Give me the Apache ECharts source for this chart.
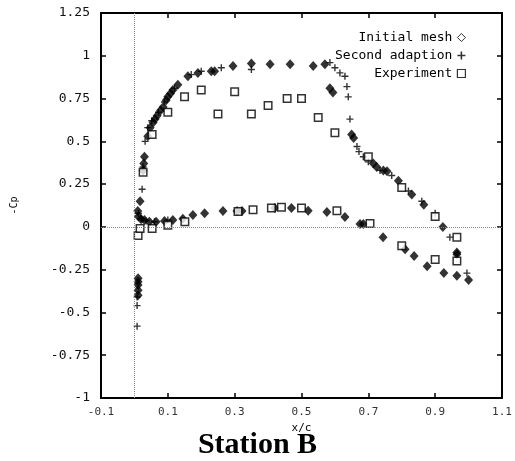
<!DOCTYPE html>
<html>
<head>
<meta charset="utf-8">
<script src="https://cdn.jsdelivr.net/npm/echarts@6/dist/echarts.min.js"></script>
<style>
html,body{margin:0;padding:0;background:#fff;}
#chart{width:515px;height:461px;}
</style>
</head>
<body>
<div id="chart"></div>
<script>
// ---- data ----
const xTicks = [-0.1, 0.1, 0.3, 0.5, 0.7, 0.9, 1.1];
const yTicks = [-1, -0.75, -0.5, -0.25, 0, 0.25, 0.5, 0.75, 1, 1.25];
const seriesNames = ['Initial mesh', 'Second adaption', 'Experiment'];

const initialMesh = [
  [0.017,0.15],[0.026,0.33],[0.028,0.37],[0.030,0.41],[0.040,0.53],[0.047,0.58],[0.056,0.61],[0.062,0.63],
  [0.068,0.65],[0.078,0.68],[0.086,0.70],[0.095,0.74],[0.100,0.76],[0.108,0.78],[0.115,0.80],[0.130,0.83],
  [0.160,0.88],[0.190,0.90],[0.230,0.91],[0.240,0.91],[0.295,0.94],[0.350,0.955],[0.406,0.95],[0.466,0.95],
  [0.535,0.94],[0.570,0.95],[0.585,0.81],[0.594,0.785],[0.650,0.54],[0.656,0.52],[0.715,0.37],[0.725,0.35],
  [0.745,0.33],[0.756,0.325],[0.790,0.27],[0.830,0.19],[0.866,0.13],[0.923,0.0],[0.965,-0.15],[0.965,-0.16],
  [1.0,-0.31],
  [0.010,0.093],[0.012,0.06],[0.020,0.045],[0.030,0.04],[0.045,0.03],[0.065,0.03],[0.090,0.035],[0.115,0.04],
  [0.145,0.047],[0.175,0.07],[0.210,0.08],[0.265,0.093],[0.307,0.093],[0.322,0.093],[0.420,0.11],[0.470,0.11],
  [0.520,0.095],[0.576,0.087],[0.630,0.058],[0.675,0.017],[0.685,0.017],[0.744,-0.06],[0.810,-0.13],[0.837,-0.17],
  [0.876,-0.23],[0.926,-0.27],[0.965,-0.285],
  [0.011,-0.30],[0.011,-0.32],[0.011,-0.34],[0.011,-0.37],[0.011,-0.40]
];

const secondAdaption = [
  [0.023,0.22],[0.026,0.35],[0.032,0.50],[0.040,0.58],[0.052,0.62],[0.072,0.67],[0.090,0.73],[0.120,0.81],
  [0.170,0.89],[0.200,0.91],[0.260,0.93],[0.350,0.92],[0.585,0.96],[0.600,0.93],[0.615,0.90],[0.630,0.88],
  [0.636,0.82],[0.640,0.76],[0.645,0.63],[0.666,0.47],[0.672,0.44],[0.685,0.41],[0.700,0.38],[0.735,0.33],
  [0.770,0.30],[0.820,0.21],[0.860,0.15],[0.900,0.08],[0.944,-0.06],[0.995,-0.27],
  [0.012,0.08],[0.020,0.05],[0.035,0.035],[0.060,0.03],[0.100,0.04],
  [0.008,-0.41],[0.008,-0.46],[0.008,-0.58]
];

const experiment = [
  [0.026,0.32],[0.053,0.54],[0.100,0.67],[0.150,0.76],[0.200,0.80],[0.250,0.66],[0.300,0.79],[0.350,0.66],
  [0.400,0.71],[0.457,0.75],[0.500,0.75],[0.550,0.64],[0.600,0.55],[0.700,0.41],[0.800,0.23],[0.900,0.06],
  [0.965,-0.06],
  [0.011,-0.05],[0.017,-0.01],[0.053,-0.01],[0.100,0.01],[0.151,0.03],[0.310,0.09],[0.355,0.10],[0.410,0.11],
  [0.440,0.115],[0.500,0.11],[0.606,0.095],[0.705,0.02],[0.800,-0.11],[0.900,-0.19],[0.965,-0.20]
];

// ---- chart ----
const MONO = '"DejaVu Sans Mono", "Liberation Mono", monospace';
const PLUS = 'path://M4,0 L6,0 L6,4 L10,4 L10,6 L6,6 L6,10 L4,10 L4,6 L0,6 L0,4 L4,4 Z';

function fmt(v){ return String(Math.round(v*100)/100); }

const chart = echarts.init(document.getElementById('chart'), null, {renderer:'canvas'});

const axisLineStyle = {color:'#000', width:2};
const tickStyle = {show:true, inside:true, length:5, lineStyle:{color:'#000', width:1.5}};

chart.setOption({
  animation:false,
  backgroundColor:'#fff',
  title:{
    text:'Station B', left:'center', top:425,
    textStyle:{fontFamily:'"Liberation Serif", "Times New Roman", serif', fontWeight:'bold', fontSize:30, color:'#000'}
  },
  legend:{
    orient:'vertical', right:44, top:26, align:'right', itemGap:5,
    itemWidth:8, itemHeight:8,
    textStyle:{fontFamily:MONO, fontSize:13, color:'#000'},
    selectedMode:false,
    data:[
      {name:seriesNames[0], icon:'diamond', itemStyle:{color:'#fff', borderColor:'#000', borderWidth:1}},
      {name:seriesNames[1], icon:PLUS},
      {name:seriesNames[2], icon:'rect', itemStyle:{color:'#fff', borderColor:'#000', borderWidth:1.2}}
    ]
  },
  grid:{left:101, right:13, top:13, bottom:63, containLabel:false},
  xAxis:[{
    type:'value', min:-0.1, max:1.1, position:'bottom',
    name:'x/c', nameLocation:'middle', nameGap:21,
    nameTextStyle:{fontFamily:MONO, fontSize:11, color:'#000'},
    axisLine:{show:true, onZero:false, lineStyle:axisLineStyle},
    axisTick:Object.assign({customValues:xTicks}, tickStyle),
    axisLabel:{customValues:xTicks, formatter:fmt, fontFamily:MONO, fontSize:11, color:'#333', margin:9},
    splitLine:{show:false}
  },{
    type:'value', min:-0.1, max:1.1, position:'top',
    axisLine:{show:true, onZero:false, lineStyle:axisLineStyle},
    axisTick:Object.assign({customValues:xTicks}, tickStyle),
    axisLabel:{show:false}, splitLine:{show:false}
  }],
  yAxis:[{
    type:'value', min:-1, max:1.25, position:'left',
    name:'-Cp', nameLocation:'middle', nameGap:82, nameRotate:90,
    nameTextStyle:{fontFamily:MONO, fontSize:10, color:'#000'},
    axisLine:{show:true, onZero:false, lineStyle:axisLineStyle},
    axisTick:Object.assign({customValues:yTicks}, tickStyle),
    axisLabel:{customValues:yTicks, formatter:fmt, fontFamily:MONO, fontSize:13, color:'#111', margin:11},
    splitLine:{show:false}
  },{
    type:'value', min:-1, max:1.25, position:'right',
    axisLine:{show:true, onZero:false, lineStyle:axisLineStyle},
    axisTick:Object.assign({customValues:yTicks}, tickStyle),
    axisLabel:{show:false}, splitLine:{show:false}
  }],
  series:[
    {
      name:seriesNames[0], type:'scatter', data:initialMesh,
      symbol:'diamond', symbolSize:[9,10],
      itemStyle:{color:'#000'},
      markLine:{
        silent:true, symbol:'none', label:{show:false},
        lineStyle:{type:'dotted', color:'#888', width:1},
        data:[{xAxis:0},{yAxis:0}]
      }
    },
    {
      name:seriesNames[1], type:'scatter', data:secondAdaption,
      symbol:PLUS, symbolSize:7,
      itemStyle:{color:'#000'}
    },
    {
      name:seriesNames[2], type:'scatter', data:experiment,
      symbol:'rect', symbolSize:7.5,
      itemStyle:{color:'#fff', borderColor:'#000', borderWidth:1.5}
    }
  ]
});
</script>
</body>
</html>
